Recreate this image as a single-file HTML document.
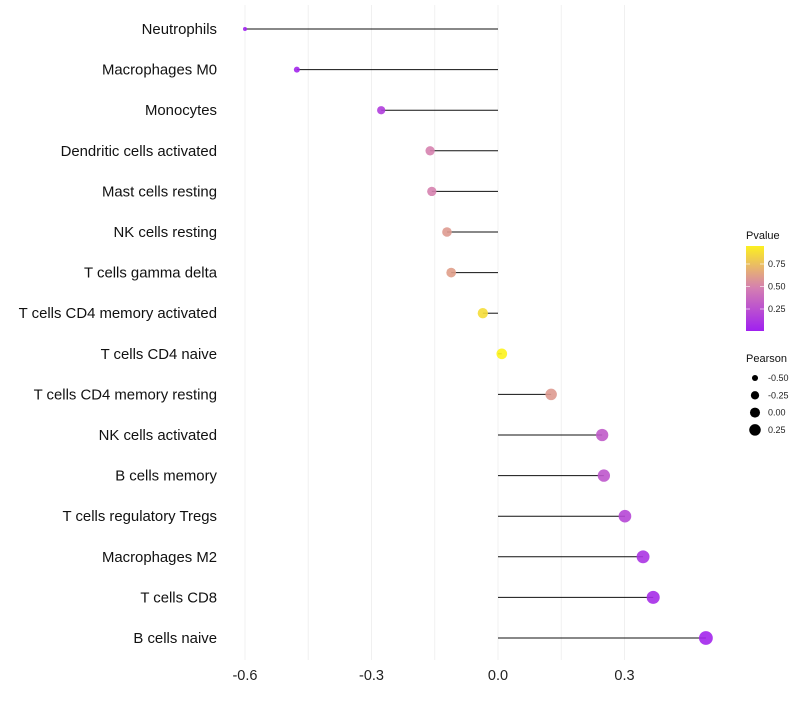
<!DOCTYPE html>
<html><head><meta charset="utf-8"><style>
body{margin:0;background:#fff}
svg{font-family:"Liberation Sans",sans-serif}
</style></head><body>
<svg id="chart" width="800" height="700"></svg>
<script>
const categories=["Neutrophils","Macrophages M0","Monocytes","Dendritic cells activated","Mast cells resting","NK cells resting","T cells gamma delta","T cells CD4 memory activated","T cells CD4 naive","T cells CD4 memory resting","NK cells activated","B cells memory","T cells regulatory  Tregs ","Macrophages M2","T cells CD8","B cells naive"];
const pearson=[-0.6,-0.477,-0.277,-0.161,-0.157,-0.121,-0.111,-0.036,0.009,0.126,0.247,0.251,0.301,0.344,0.368,0.493];
const pvalue=[0.01,0.03,0.15,0.5,0.5,0.6,0.62,0.88,0.97,0.6,0.3,0.28,0.2,0.1,0.06,0.03];
const xTicks=[-0.6,-0.3,0.0,0.3];
const xTickLabels=["-0.6","-0.3","0.0","0.3"];
const legendP=[0.25,0.50,0.75];
const legendPLabels=["0.25","0.50","0.75"];
const legendR=[-0.5,-0.25,0,0.25];
const legendRLabels=["-0.50","-0.25","0.00","0.25"];

const NS="http://www.w3.org/2000/svg";
const svg=document.getElementById('chart');
function mk(t,a,p){const e=document.createElementNS(NS,t);for(const k in a)e.setAttribute(k,a[k]);(p||svg).appendChild(e);return e;}
const x=v=>498+(v)*421.7;
const y=i=>29+i*40.6;
const rad=v=>Math.sqrt(4+(v+0.6)*40);
const radL=v=>Math.sqrt(6+(v+0.6)*32);
function col(p){
  const s=[[160,32,240],[214,130,175],[255,250,20]];
  let a,b,t;
  if(p<0.5){a=s[0];b=s[1];t=p/0.5;}else{a=s[1];b=s[2];t=(p-0.5)/0.5;}
  t=Math.max(0,Math.min(1,t));
  return `rgb(${a.map((c,k)=>Math.round(c+(b[k]-c)*t)).join(',')})`;
}
const grid=mk('g',{});


for(let v=-0.6;v<=0.31;v+=0.15){
  const l=mk('line',{x1:x(v),x2:x(v),y1:5,y2:660,stroke:'#f0f0f0','stroke-width':1},grid);
  
  
}
xTicks.forEach((v,i)=>{
  const t=mk('text',{x:x(v),y:680,'text-anchor':'middle','font-size':14.5,fill:'#222'});
  t.textContent=xTickLabels[i];
  
  
});
categories.forEach((c,i)=>{
  const t=mk('text',{x:217,y:y(i)+5,'text-anchor':'end','font-size':14.9,fill:'#111','xml:space':'preserve'});
  t.textContent=c;
  
  
  const l=mk('line',{x1:x(0),x2:x(pearson[i]),y1:y(i),y2:y(i),stroke:'#111','stroke-width':1});
  
  
  const d=mk('circle',{cx:x(pearson[i]),cy:y(i),r:rad(pearson[i]),fill:col(pvalue[i]),'fill-opacity':0.9});
  
  
});
const lg=mk('g',{});


const defs=mk('defs',{});
const gr=mk('linearGradient',{id:'pg',x1:0,y1:1,x2:0,y2:0},defs);
for(let k=0;k<=10;k++){mk('stop',{offset:k/10,'stop-color':col(k/10*0.96)},gr);}
let tt=mk('text',{x:746,y:239,'font-size':11,fill:'#111'},lg);tt.textContent='Pvalue';
const bar=mk('rect',{x:746,y:246,width:18,height:85,fill:'url(#pg)'},lg);


legendP.forEach((p,i)=>{
  const yy=331.5-p*90;
  mk('line',{x1:746,x2:750,y1:yy,y2:yy,stroke:'#fff','stroke-opacity':0.6},lg);
  mk('line',{x1:760,x2:764,y1:yy,y2:yy,stroke:'#fff','stroke-opacity':0.6},lg);
  const t=mk('text',{x:768,y:yy+3,'font-size':9,fill:'#222'},lg);t.textContent=legendPLabels[i];
});
const sg=mk('g',{});


tt=mk('text',{x:746,y:362,'font-size':11,fill:'#111'},sg);tt.textContent='Pearson';
legendR.forEach((v,i)=>{
  const yy=378+i*17.3;
  const c=mk('circle',{cx:755,cy:yy,r:radL(v),fill:'#000'},sg);
  
  
  const t=mk('text',{x:768,y:yy+3,'font-size':9,fill:'#222'},sg);t.textContent=legendRLabels[i];
});
</script>
</body></html>
